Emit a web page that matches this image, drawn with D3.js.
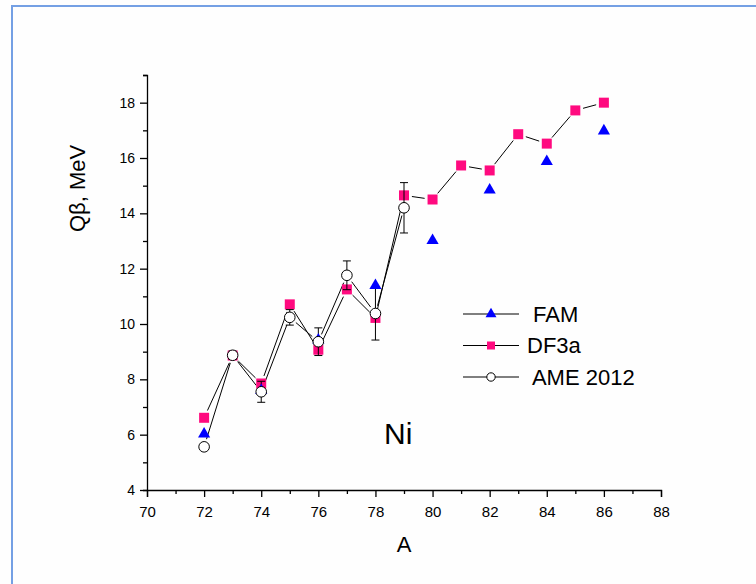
<!DOCTYPE html>
<html>
<head>
<meta charset="utf-8">
<script src="https://cdn.jsdelivr.net/npm/d3@7"></script>
<style>
  body { margin: 0; background: #fff; }
  svg { display: block; font-family: Arial, "Liberation Sans", sans-serif; }
</style>
</head>
<body>
<div id="chart"></div>
<script>
// Q-beta values for Ni isotopes.
const df3aA = d3.range(72, 87);
const df3a = [6.61, 8.86, 7.85, 10.71, 9.07, 11.25, 10.22, 14.65, 14.50, 15.73, 15.55, 16.86, 16.52, 17.72, 18.00];

const famA = [72, 74, 76, 78, 80, 82, 84, 86];
const fam = [6.02, 7.60, 9.42, 11.39, 13.02, 14.84, 15.87, 16.98];

const ameA = d3.range(72, 80);
const ame = [5.56, 8.87, 7.55, 10.24, 9.36, 11.76, 10.38, 14.20];
const ameErr = [0.10, 0.15, 0.38, 0.28, 0.50, 0.52, 0.96, 0.91];

const xMajor = d3.range(70, 89, 2);
const xMinor = d3.range(71, 89, 2);
const yMajor = d3.range(4, 19, 2);
const yMinor = d3.range(5, 20, 2);

const legendLabels = [" FAM", "DF3a", " AME 2012"];

// Chart size and plot box.
const width = 756;
const height = 584;
const margin = {top: 75, right: 95, bottom: 94, left: 147};

const pink = "#ff0a7f";
const blue = "#0000ff";

const x = d3.scaleLinear().domain([70, 88]).range([margin.left, width - margin.right]);
const y = d3.scaleLinear().domain([4, 19]).range([height - margin.bottom, margin.top]);

const svg = d3.select("#chart")
  .append("svg")
    .attr("width", width)
    .attr("height", height)
    .attr("viewBox", [0, 0, width, height]);

svg.append("rect")
    .attr("width", width)
    .attr("height", height)
    .attr("fill", "#fefefe");

// Outer frame (only top and left edges show in the picture).
svg.append("path")
    .attr("d", `M12,${height}V6H${width}`)
    .attr("fill", "none")
    .attr("stroke", "#74a0e4")
    .attr("stroke-width", 2);

// Axes
const xAxis = svg.append("g")
    .attr("transform", `translate(0,${y(4)})`)
    .call(d3.axisBottom(x).tickValues(xMajor).tickSize(7).tickSizeOuter(7).tickPadding(9));
svg.append("g")
    .attr("transform", `translate(0,${y(4)})`)
    .call(d3.axisBottom(x).tickValues(xMinor).tickSize(4).tickFormat("")).select(".domain").remove();

const yAxis = svg.append("g")
    .attr("transform", `translate(${x(70)},0)`)
    .call(d3.axisLeft(y).tickValues(yMajor).tickSize(7).tickSizeOuter(4).tickPadding(5));
svg.append("g")
    .attr("transform", `translate(${x(70)},0)`)
    .call(d3.axisLeft(y).tickValues(yMinor).tickSize(4).tickFormat("")).select(".domain").remove();

svg.selectAll(".domain, .tick line").attr("stroke", "#000").attr("stroke-width", 1.3);
xAxis.selectAll("text").attr("font-size", 15).attr("font-family", "Arial, 'Liberation Sans', sans-serif").attr("fill", "#000");
yAxis.selectAll("text").attr("font-size", 14).attr("font-family", "Arial, 'Liberation Sans', sans-serif").attr("fill", "#000");

// Axis titles
svg.append("text")
    .attr("x", x(79))
    .attr("y", 552)
    .attr("text-anchor", "middle")
    .attr("font-size", 22)
    .text("A");

svg.append("text")
    .attr("transform", `translate(85,${y(14.9)}) rotate(-90)`)
    .attr("text-anchor", "middle")
    .attr("font-size", 22)
    .text("Qβ, MeV");

svg.append("text")
    .attr("x", x(78.3))
    .attr("y", y(5.65))
    .attr("font-size", 30)
    .text("Ni");

// Connecting lines, with a small gap left around each marker.
function segments(xs, ys, gap) {
  const pts = xs.map((a, i) => [x(a), y(ys[i])]);
  return d3.pairs(pts).map(([p, q]) => {
    const dx = q[0] - p[0], dy = q[1] - p[1];
    const len = Math.hypot(dx, dy);
    const ux = dx / len, uy = dy / len;
    return [[p[0] + ux * gap, p[1] + uy * gap], [q[0] - ux * gap, q[1] - uy * gap]];
  });
}

const line = d3.line();

svg.append("g")
    .attr("fill", "none")
    .attr("stroke", "#000")
    .attr("stroke-width", 1)
  .selectAll("path")
  .data(segments(df3aA, df3a, 8).concat(segments(ameA, ame, 8)))
  .join("path")
    .attr("d", line);

// DF3a squares
svg.append("g")
  .selectAll("path")
  .data(df3aA)
  .join("path")
    .attr("transform", (d, i) => `translate(${x(d)},${y(df3a[i])})`)
    .attr("d", d3.symbol(d3.symbolSquare, 100))
    .attr("fill", pink);

// AME error bars
const err = svg.append("g")
    .attr("stroke", "#000")
    .attr("stroke-width", 1)
  .selectAll("g")
  .data(ameA)
  .join("g");
err.append("line")
    .attr("x1", d => x(d)).attr("x2", d => x(d))
    .attr("y1", (d, i) => y(ame[i] + ameErr[i]))
    .attr("y2", (d, i) => y(ame[i] - ameErr[i]));
err.append("line")
    .attr("x1", d => x(d) - 4).attr("x2", d => x(d) + 4)
    .attr("y1", (d, i) => y(ame[i] + ameErr[i]))
    .attr("y2", (d, i) => y(ame[i] + ameErr[i]));
err.append("line")
    .attr("x1", d => x(d) - 4).attr("x2", d => x(d) + 4)
    .attr("y1", (d, i) => y(ame[i] - ameErr[i]))
    .attr("y2", (d, i) => y(ame[i] - ameErr[i]));

// FAM triangles
svg.append("g")
  .selectAll("path")
  .data(famA)
  .join("path")
    .attr("transform", (d, i) => `translate(${x(d)},${y(fam[i])})`)
    .attr("d", d3.symbol(d3.symbolTriangle, 64))
    .attr("fill", blue);

// AME open circles
svg.append("g")
  .selectAll("circle")
  .data(ameA)
  .join("circle")
    .attr("cx", d => x(d))
    .attr("cy", (d, i) => y(ame[i]))
    .attr("r", 5.3)
    .attr("fill", "#fff")
    .attr("stroke", "#000")
    .attr("stroke-width", 1);

// Legend
const legend = svg.append("g")
  .selectAll("g")
  .data(legendLabels)
  .join("g")
    .attr("transform", (d, i) => `translate(463,${314 + i * 31.5})`);

legend.append("line")
    .attr("x1", 0).attr("x2", 56)
    .attr("stroke", "#000")
    .attr("stroke-width", 1);

legend.filter((d, i) => i === 0).append("path")
    .attr("transform", "translate(28,0)")
    .attr("d", d3.symbol(d3.symbolTriangle, 52))
    .attr("fill", blue);
legend.filter((d, i) => i === 1).append("path")
    .attr("transform", "translate(28,0)")
    .attr("d", d3.symbol(d3.symbolSquare, 64))
    .attr("fill", pink);
legend.filter((d, i) => i === 2).append("circle")
    .attr("cx", 28)
    .attr("r", 4.2)
    .attr("fill", "#fff")
    .attr("stroke", "#000");

legend.append("text")
    .attr("x", 64)
    .attr("dy", "0.36em")
    .attr("font-size", 22)
    .attr("xml:space", "preserve")
    .style("white-space", "pre")
    .text(d => d);
</script>
</body>
</html>
